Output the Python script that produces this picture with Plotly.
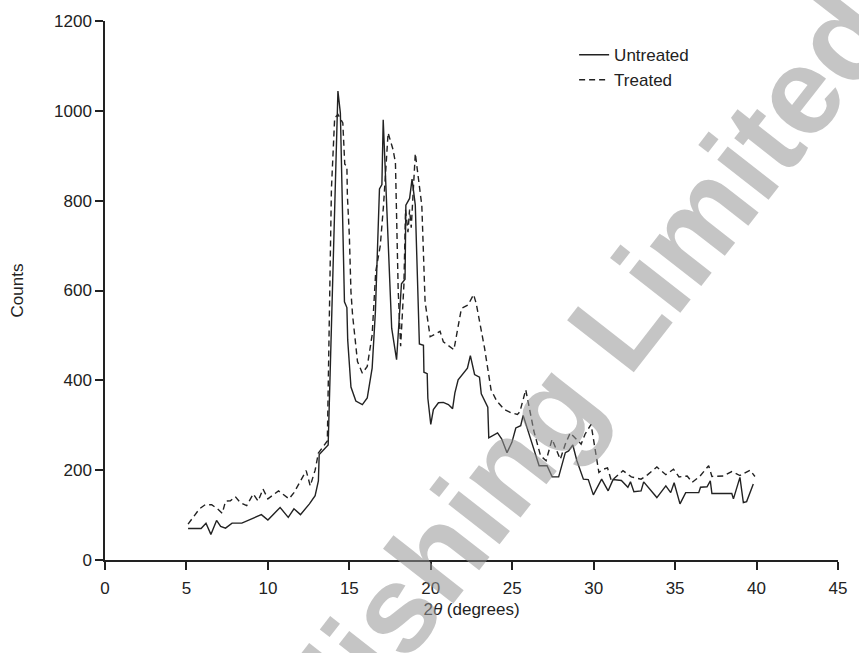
import plotly.graph_objects as go

# XRD patterns: 2-theta (degrees) vs counts
untreated_x = [5.1, 5.9, 6.2, 6.5, 6.85, 7.1, 7.4, 7.8, 8.4, 9.0, 9.6, 10.0, 10.75, 11.25, 11.6, 12.0,
               12.55, 12.9, 13.1, 13.15, 13.7, 14.3, 14.45, 14.7, 14.85, 14.9, 15.1, 15.4, 15.8, 16.1,
               16.4, 16.6, 16.85, 17.0, 17.08, 17.6, 17.9, 18.2, 18.42, 18.47, 18.7, 18.85, 19.05,
               19.3, 19.55, 19.58, 19.78, 19.82, 19.9, 20.0, 20.16, 20.47, 20.77, 21.08, 21.34, 21.48,
               21.68, 21.98, 22.25, 22.43, 22.69, 22.99, 23.1, 23.5, 23.56, 24.1, 24.35, 24.68, 24.98,
               25.22, 25.52, 25.67, 26.65, 27.14, 27.45, 27.85, 28.26, 28.46, 28.72, 28.97, 29.37,
               29.67, 29.98, 30.49, 30.89, 31.19, 31.7, 32.1, 32.26, 32.47, 32.91, 33.07, 33.88,
               34.43, 34.73, 34.94, 35.3, 35.65, 36.45, 36.56, 36.96, 37.16, 37.26, 38.48, 38.58,
               38.98, 39.19, 39.39, 39.8]
untreated_y = [70, 70, 82, 57, 88, 75, 71, 82, 82, 92, 101, 89, 117, 95, 114, 101,
               125, 143, 176, 235, 256, 1044, 995, 575, 562, 490, 385, 354, 346, 361,
               427, 553, 826, 836, 980, 516, 446, 615, 625, 790, 805, 848, 790,
               481, 478, 418, 415, 360, 331, 302, 335, 350, 351, 346, 337, 372,
               401, 416, 427, 455, 413, 407, 370, 340, 272, 283, 270, 239, 262,
               294, 299, 322, 210, 210, 185, 185, 239, 243, 256, 221, 180,
               179, 145, 180, 154, 179, 177, 162, 174, 152, 154, 174, 139,
               165, 150, 172, 125, 150, 150, 162, 163, 176, 148, 148, 136,
               184, 128, 130, 169]

treated_x = [5.1, 5.8, 6.15, 6.55, 6.9, 7.2, 7.4, 7.7, 8.0, 8.3, 8.7, 9.1, 9.4, 9.7, 10.0, 10.65,
             11.3, 11.6, 12.0, 12.35, 12.6, 12.9, 13.1, 13.5, 13.65, 13.9, 14.1, 14.3, 14.6, 14.72,
             14.85, 14.88, 15.0, 15.1, 15.2, 15.5, 15.8, 16.1, 16.4, 16.62, 16.9, 17.1, 17.38,
             17.68, 17.83, 18.0, 18.15, 18.35, 18.45, 18.6, 18.7, 18.8, 19.05, 19.45, 19.65,
             19.96, 20.57, 20.77, 21.42, 21.88, 22.29, 22.63, 22.79, 23.3, 23.7, 24.05, 24.51,
             24.92, 25.32, 25.47, 25.83, 26.33, 26.74, 27.08, 27.45, 27.95, 28.26, 28.56, 28.87,
             29.23, 29.47, 29.84, 30.32, 30.58, 30.85, 31.09, 31.8, 32.31, 32.91, 33.32, 33.88,
             34.43, 34.9, 35.24, 35.74, 36.05, 36.51, 37.06, 37.26, 37.97, 38.48, 38.98, 39.6, 39.9]
treated_y = [80, 114, 123, 123, 114, 104, 131, 132, 141, 128, 121, 147, 131, 158, 136, 154,
             136, 150, 176, 199, 165, 200, 238, 259, 265, 826, 984, 992, 973, 881,
             877, 811, 723, 597, 545, 442, 416, 431, 501, 642, 700, 790, 951,
             914, 885, 600, 476, 612, 780, 730, 780, 740, 905, 789, 575,
             497, 509, 486, 468, 560, 568, 591, 571, 472, 379, 354, 335,
             328, 324, 330, 379, 287, 232, 221, 269, 224, 258, 283, 272,
             258, 280, 302, 195, 202, 205, 176, 199, 185, 180, 190, 207,
             190, 202, 185, 187, 173, 186, 210, 186, 187, 197, 188, 200, 186]

x_ticks = [0, 5, 10, 15, 20, 25, 30, 35, 40, 45]
y_ticks = [0, 200, 400, 600, 800, 1000, 1200]

FONT = "Liberation Sans, Arial, sans-serif"
INK = "#222222"

fig = go.Figure()
fig.add_trace(go.Scatter(x=untreated_x, y=untreated_y, mode="lines", name="Untreated",
                         line=dict(color=INK, width=1.4)))
fig.add_trace(go.Scatter(x=treated_x, y=treated_y, mode="lines", name="Treated",
                         line=dict(color=INK, width=1.4, dash="6px,4px")))

axis_common = dict(showgrid=False, zeroline=False, showline=True, linecolor=INK, linewidth=1.5,
                   ticks="outside", ticklen=8, tickwidth=1.5, tickcolor=INK,
                   tickfont=dict(family=FONT, size=17, color=INK))

fig.update_xaxes(range=[0, 45], tickvals=x_ticks, ticklabelstandoff=4, **axis_common,
                 title=dict(text="2<i>θ</i> (degrees)", font=dict(family=FONT, size=17, color=INK),
                            standoff=6))
fig.update_yaxes(range=[0, 1200], tickvals=y_ticks, **axis_common,
                 title=dict(text="Counts", font=dict(family=FONT, size=17, color=INK),
                            standoff=26))

# publisher watermark, rotated about its centre
fig.add_annotation(text="<b>Woodhead Publishing Limited</b>", xref="paper", yref="paper",
                   x=0.2969, y=-0.2624, xanchor="center", yanchor="middle",
                   showarrow=False, textangle=-52,
                   font=dict(family=FONT, size=123, color="rgba(150,150,150,0.55)"))

fig.update_layout(
    width=859, height=653,
    margin=dict(l=105, r=13, t=17, b=93),
    paper_bgcolor="white", plot_bgcolor="white",
    showlegend=True,
    legend=dict(x=0.640, y=0.97, xanchor="left", yanchor="top", bgcolor="rgba(0,0,0,0)",
                font=dict(family=FONT, size=17, color=INK), tracegroupgap=0),
)

fig.write_html("out.html")
